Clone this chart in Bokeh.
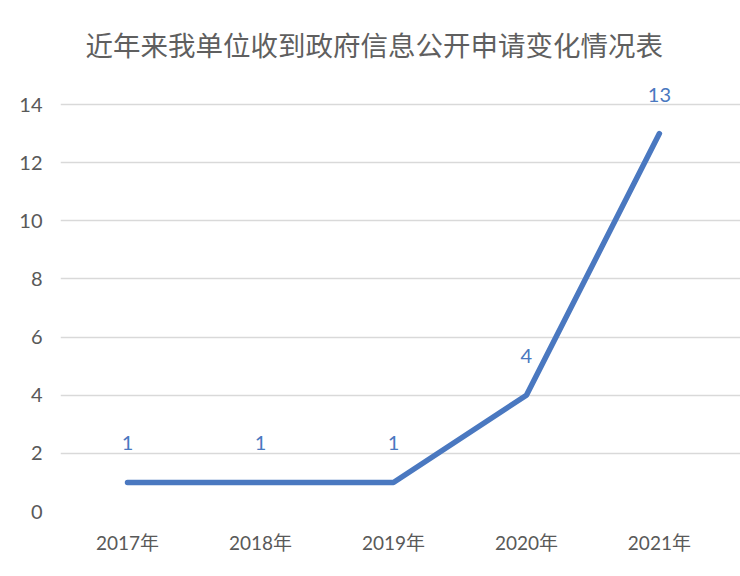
from bokeh.plotting import figure
from bokeh.models import ColumnDataSource, LabelSet, FixedTicker, Range1d
from bokeh.core.properties import value
from bokeh.embed import file_html
from bokeh.resources import INLINE

years = ["2017年", "2018年", "2019年", "2020年", "2021年"]
counts = [1, 1, 1, 4, 13]
y_ticks = [0, 2, 4, 6, 8, 10, 12, 14]
title_text = "近年来我单位收到政府信息公开申请变化情况表"

idx = list(range(len(years)))
src = ColumnDataSource(dict(x=idx, y=counts, lab=[str(c) for c in counts]))

FONT = "Lato, 'Noto Sans CJK SC', sans-serif"

p = figure(width=740, height=576, output_backend="svg", toolbar_location=None,
           x_range=Range1d(-0.504, 4.61), y_range=Range1d(0, 15.17),
           min_border_left=60, min_border_right=0, min_border_top=70, min_border_bottom=65)
p.title.text = title_text
p.title.align = "left"
p.title.offset = 25
p.title.text_font = "Noto Sans CJK SC"
p.title.text_font_size = "27.5px"
p.title.text_font_style = "normal"
p.title.text_color = "#5f5f5f"
p.title.standoff = 14

p.outline_line_color = None
p.background_fill_color = "white"

p.line("x", "y", source=src, line_color="#4a78c0", line_width=5.5, line_cap="round", line_join="round")

labels = LabelSet(x="x", y="y", text="lab", source=src, y_offset=39, text_align="center",
                  text_baseline="middle", text_color="#4a78c0", text_font_size="20px",
                  text_font=value("Lato"))
p.add_layout(labels)

p.xgrid.grid_line_color = None
p.ygrid.grid_line_color = "#d9d9d9"
p.ygrid.grid_line_width = 1.5
p.yaxis.ticker = FixedTicker(ticks=y_ticks)
p.xaxis.ticker = FixedTicker(ticks=idx)
p.xaxis.major_label_overrides = {i: years[i] for i in idx}

for ax in (p.xaxis[0], p.yaxis[0]):
    ax.axis_line_color = None
    ax.major_tick_line_color = None
    ax.minor_tick_line_color = None
    ax.major_label_text_color = "#595959"
    ax.major_label_text_font = FONT
p.xaxis.major_label_text_font_size = "19px"
p.yaxis.major_label_text_font_size = "20px"
p.yaxis.major_label_standoff = 12
p.xaxis.major_label_standoff = 13

open("out.html", "w").write(file_html(p, INLINE))
